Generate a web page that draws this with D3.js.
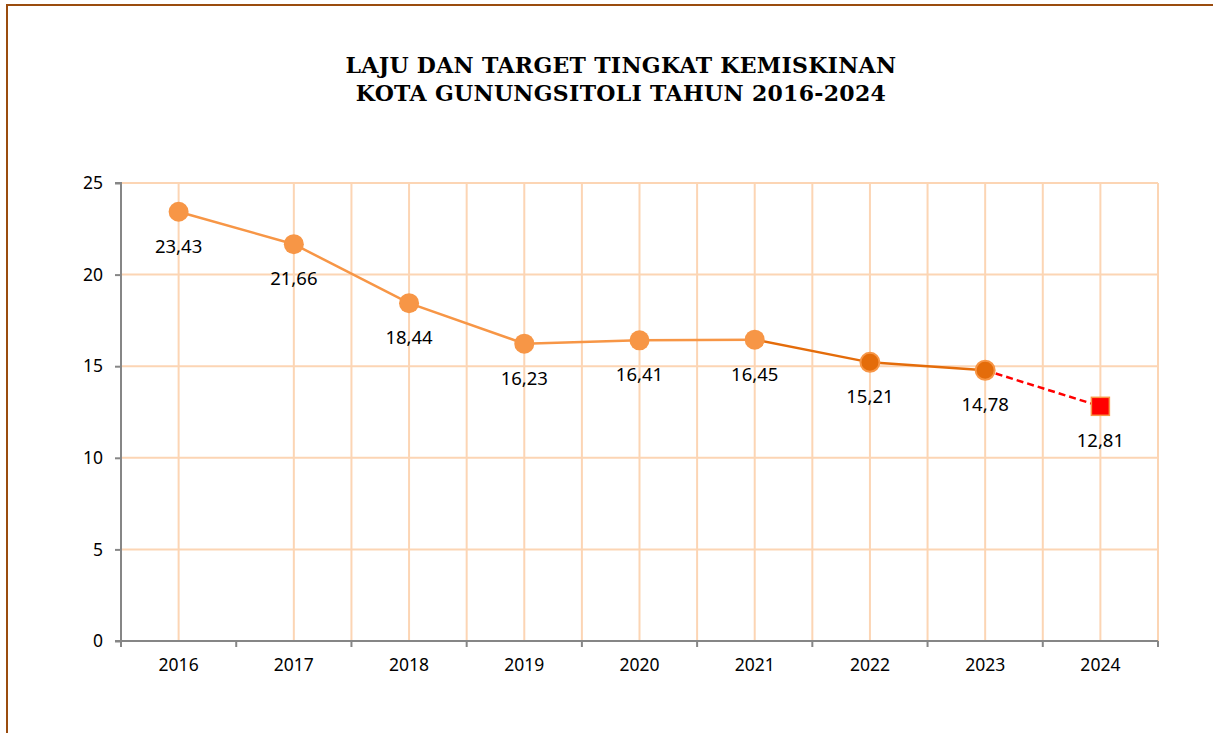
<!DOCTYPE html>
<html lang="id">
<head>
<meta charset="UTF-8">
<title>Laju dan Target Tingkat Kemiskinan</title>
<script src="https://d3js.org/d3.v7.min.js"></script>
<style>
  body { margin: 0; background: #fff; }
  text { font-family: "Noto Sans", sans-serif; }
</style>
</head>
<body>
<div id="chart"></div>
<script>
  // data
  const years = ["2016", "2017", "2018", "2019", "2020", "2021", "2022", "2023", "2024"];
  const rates = [23.43, 21.66, 18.44, 16.23, 16.41, 16.45, 15.21, 14.78, 12.81];
  const labels = ["23,43", "21,66", "18,44", "16,23", "16,41", "16,45", "15,21", "14,78", "12,81"];
  const yTicks = [0, 5, 10, 15, 20, 25];
  const titleLines = ["LAJU DAN TARGET TINGKAT KEMISKINAN", "KOTA GUNUNGSITOLI TAHUN 2016-2024"];

  const W = 1213, H = 733;
  const plot = {left: 121, right: 1158, top: 183, bottom: 641};

  const svg = d3.select("#chart").append("svg")
    .attr("width", W).attr("height", H);

  svg.append("rect").attr("width", W).attr("height", H).attr("fill", "#fff");

  // outer frame (only top and left visible)
  svg.append("path")
    .attr("d", `M7,${H + 5} L7,5 L${W + 5},5`)
    .attr("fill", "none")
    .attr("stroke", "#9a4c0e")
    .attr("stroke-width", 2);

  // title
  svg.append("g").selectAll("text")
    .data(titleLines)
    .join("text")
      .attr("x", 621)
      .attr("y", (d, i) => 73 + i * 28)
      .attr("text-anchor", "middle")
      .style("font-family", "'DejaVu Serif', serif")
      .style("font-weight", "bold")
      .style("font-size", "22px")
      .style("letter-spacing", "0.3px")
      .text(d => d);

  const x = d3.scaleBand().domain(years).range([plot.left, plot.right]);
  const y = d3.scaleLinear().domain([0, 25]).range([plot.bottom, plot.top]);
  const cx = d => x(d) + x.bandwidth() / 2;

  const grid = svg.append("g").attr("stroke", "#fcd5b4").attr("stroke-width", 2);

  // horizontal gridlines
  grid.selectAll("line.h")
    .data(yTicks.filter(d => d > 0))
    .join("line")
      .attr("class", "h")
      .attr("x1", plot.left).attr("x2", plot.right)
      .attr("y1", d => y(d)).attr("y2", d => y(d));

  // vertical gridlines: category centres and boundaries
  const vlines = years.map(cx).concat(years.map(d => x(d) + x.bandwidth()).filter((d, i) => i > 0));
  grid.selectAll("line.v")
    .data(vlines)
    .join("line")
      .attr("class", "v")
      .attr("x1", d => d).attr("x2", d => d)
      .attr("y1", plot.top).attr("y2", plot.bottom);

  // axes
  const yAxis = svg.append("g")
    .attr("transform", `translate(${plot.left},0)`)
    .call(d3.axisLeft(y).tickValues(yTicks).tickSize(6).tickPadding(12).tickFormat(d3.format("d")));
  yAxis.select(".domain").attr("stroke", "#868686").attr("stroke-width", 2)
    .attr("d", `M-6,${plot.top}H0V${plot.bottom}H-6`);
  yAxis.selectAll(".tick line").attr("stroke", "#868686").attr("stroke-width", 2);
  yAxis.selectAll(".tick text").style("font-size", "17.5px").attr("fill", "#000");

  const xAxis = svg.append("g")
    .attr("transform", `translate(0,${plot.bottom})`)
    .call(d3.axisBottom(x).tickSize(0).tickPadding(18));
  xAxis.select(".domain").attr("stroke", "#868686").attr("stroke-width", 2)
    .attr("d", `M${plot.left},0H${plot.right}`);
  xAxis.selectAll(".tick text").style("font-size", "17.5px").attr("fill", "#000");
  xAxis.selectAll("line.xt")
    .data(years.map(d => x(d)).concat([plot.right]))
    .join("line")
      .attr("class", "xt")
      .attr("x1", d => d).attr("x2", d => d)
      .attr("y1", 0).attr("y2", 6)
      .attr("stroke", "#868686").attr("stroke-width", 2);

  const pts = years.map((d, i) => ({year: d, v: rates[i], label: labels[i]}));
  const line = d3.line().x(d => cx(d.year)).y(d => y(d.v));

  // light orange 2016-2021
  svg.append("path")
    .datum(pts.slice(0, 6))
    .attr("d", line)
    .attr("fill", "none").attr("stroke", "#f79646").attr("stroke-width", 2.5);

  // dark orange 2021-2023
  svg.append("path")
    .datum(pts.slice(5, 8))
    .attr("d", line)
    .attr("fill", "none").attr("stroke", "#e46c0a").attr("stroke-width", 2.5);

  // dashed target 2023-2024
  svg.append("path")
    .datum(pts.slice(7, 9))
    .attr("d", line)
    .attr("fill", "none").attr("stroke", "#ff0000").attr("stroke-width", 2.5)
    .attr("stroke-dasharray", "7,4");

  // markers
  svg.append("g").selectAll("circle")
    .data(pts.slice(0, 8))
    .join("circle")
      .attr("cx", d => cx(d.year))
      .attr("cy", d => y(d.v))
      .attr("r", d => d.year >= "2022" ? 9.5 : 10)
      .attr("fill", d => d.year >= "2022" ? "#e46c0a" : "#f79646")
      .attr("stroke", d => d.year >= "2022" ? "#f79646" : "none")
      .attr("stroke-width", 2);

  const last = pts[8];
  svg.append("rect")
    .attr("x", cx(last.year) - 9)
    .attr("y", y(last.v) - 9)
    .attr("width", 18).attr("height", 18)
    .attr("fill", "#ff0000")
    .attr("stroke", "#f79646").attr("stroke-width", 1.5);

  // value labels
  svg.append("g").selectAll("text")
    .data(pts)
    .join("text")
      .attr("x", d => cx(d.year))
      .attr("y", d => y(d.v) + 36)
      .attr("text-anchor", "middle")
      .attr("dominant-baseline", "middle")
      .style("font-size", "18.5px")
      .text(d => d.label);
</script>
</body>
</html>
